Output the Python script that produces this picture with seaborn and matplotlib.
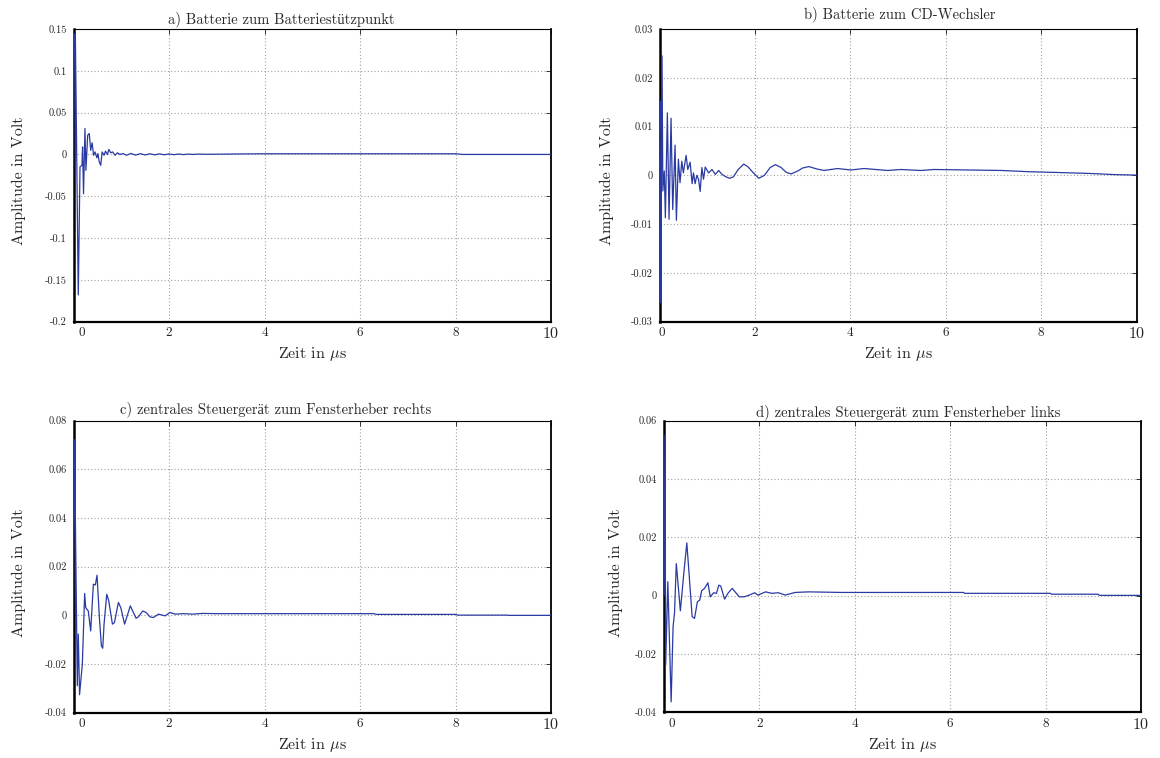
import numpy as np
import pandas as pd
import matplotlib
matplotlib.use("Agg")
import matplotlib.pyplot as plt
import matplotlib.transforms as mtransforms
import seaborn as sns

# ---------------- data ----------------
titles = ["a) Batterie zum Batteriestützpunkt",
          "b) Batterie zum CD-Wechsler",
          "c) zentrales Steuergerät zum Fensterheber rechts",
          "d) zentrales Steuergerät zum Fensterheber links"]

x_ticks = [0, 2, 4, 6, 8, 10]
x_ticklabels = ["0", "2", "4", "6", "8", "10"]

# panel a
t_a = [0.0, 0.02, 0.04, 0.10, 0.136, 0.178, 0.19, 0.21, 0.24, 0.26, 0.297, 0.33,
       0.36, 0.39, 0.42, 0.45, 0.49, 0.51, 0.54, 0.57, 0.60, 0.64, 0.67, 0.71,
       0.74, 0.78, 0.82, 0.87, 0.92, 0.97, 1.04, 1.11, 1.2, 1.3, 1.4, 1.5, 1.6,
       1.7, 1.8, 1.9, 2.0, 2.1, 2.2, 2.3, 2.4, 2.5, 2.6, 2.8, 3.0, 3.5, 4.0,
       5.0, 6.0, 7.0, 8.0, 8.15, 9.0, 10.0]
v_a = [-0.03, 0.144, 0.138, -0.168, -0.015, -0.013, 0.009, -0.047, 0.031, -0.019,
       0.023, 0.025, 0.005, 0.014, -0.001, 0.003, -0.004, 0.001, -0.009, -0.013,
       0.003, -0.001, 0.004, 0.0, 0.006, 0.002, 0.003, -0.001, 0.002, 0.0, 0.001,
       -0.001, 0.0012, -0.0008, 0.0009, -0.0006, 0.0008, -0.0005, 0.0007, -0.0004,
       0.0006, -0.0003, 0.0005, -0.0002, 0.0004, 0.0, 0.0004, 0.0002, 0.0003,
       0.0006, 0.0008, 0.0008, 0.0008, 0.0008, 0.0008, 0.0, 0.0, 0.0]
y_ticks_a = [-0.2, -0.15, -0.1, -0.05, 0, 0.05, 0.1, 0.15]
y_labels_a = ["-0.2", "-0.15", "-0.1", "-0.05", "0", "0.05", "0.1", "0.15"]

# panel b
t_b = [0.0, 0.01, 0.025, 0.053, 0.07, 0.1, 0.123, 0.165, 0.2, 0.242, 0.277, 0.326,
       0.354, 0.396, 0.43, 0.467, 0.5, 0.558, 0.593, 0.642, 0.684, 0.712, 0.747,
       0.782, 0.818, 0.853, 0.888, 0.923, 0.958, 1.03, 1.1, 1.17, 1.24, 1.31,
       1.39, 1.47, 1.55, 1.65, 1.765, 1.85, 1.95, 2.08, 2.2, 2.32, 2.43, 2.55,
       2.66, 2.76, 2.9, 3.0, 3.13, 3.3, 3.45, 3.73, 4.01, 4.29, 4.78, 5.06, 5.48,
       5.76, 6.47, 7.17, 7.73, 8.29, 8.99, 9.55, 10.0]
v_b = [0.0084, 0.0152, -0.0261, 0.0245, -0.0032, 0.0009, -0.0087, 0.0128, -0.009,
       0.0117, -0.007, 0.0062, -0.0092, 0.0033, -0.0015, 0.0029, 0.0005, 0.0041,
       0.0012, 0.0027, -0.0017, 0.0005, -0.0017, 0.0, -0.0008, -0.0033, 0.0016,
       -0.0008, 0.0017, 0.0005, 0.0012, 0.0002, 0.001, 0.0002, -0.0003, -0.0006,
       -0.0003, 0.0012, 0.0023, 0.0018, 0.0007, -0.0006, 0.0, 0.0016, 0.0022,
       0.0016, 0.0006, 0.0003, 0.0009, 0.0015, 0.0018, 0.0013, 0.001, 0.0014,
       0.0011, 0.0014, 0.001, 0.0012, 0.001, 0.0012, 0.0011, 0.001, 0.00075,
       0.0006, 0.0004, 0.00015, 0.00005]
y_ticks_b = [-0.03, -0.02, -0.01, 0, 0.01, 0.02, 0.03]
y_labels_b = ["-0.03", "-0.02", "-0.01", "0", "0.01", "0.02", "0.03"]

# panel c
t_c = [0.0, 0.02, 0.08, 0.1, 0.127, 0.185, 0.234, 0.255, 0.31, 0.36, 0.416, 0.458,
       0.493, 0.542, 0.584, 0.612, 0.64, 0.696, 0.738, 0.815, 0.857, 0.94, 0.99,
       1.07, 1.19, 1.31, 1.36, 1.45, 1.52, 1.6, 1.67, 1.78, 1.92, 2.02, 2.13,
       2.3, 2.5, 2.7, 3.0, 4.0, 5.0, 6.29, 6.35, 8.0, 8.05, 9.09, 9.12, 10.0]
v_c = [0.0, 0.0722, -0.0289, -0.0077, -0.0326, -0.02, 0.009, 0.0032, 0.0018,
       -0.0064, 0.0128, 0.0125, 0.0165, -0.0009, -0.0125, -0.0135, -0.0036,
       0.0087, 0.006, -0.0036, -0.003, 0.0053, 0.0032, -0.0036, 0.0039, -0.0012,
       -0.0006, 0.0018, 0.0012, -0.0006, -0.0009, 0.0005, -0.0002, 0.0012,
       0.0005, 0.0007, 0.0005, 0.0008, 0.0007, 0.0007, 0.0007, 0.0007, 0.0004,
       0.0004, 0.0001, 0.0001, 0.0, 0.0]
y_ticks_c = [-0.04, -0.02, 0, 0.02, 0.04, 0.06, 0.08]
y_labels_c = ["-0.04", "-0.02", "0", "0.02", "0.04", "0.06", "0.08"]

# panel d
t_d = [0.0, 0.02, 0.035, 0.08, 0.15, 0.19, 0.22, 0.258, 0.343, 0.415, 0.478, 0.52,
       0.59, 0.64, 0.7, 0.75, 0.79, 0.85, 0.88, 0.92, 0.97, 1.04, 1.1, 1.15,
       1.19, 1.27, 1.34, 1.43, 1.49, 1.58, 1.68, 1.79, 1.9, 1.97, 2.13, 2.26,
       2.4, 2.54, 2.75, 3.03, 3.74, 5.0, 6.28, 6.3, 8.1, 8.13, 9.1, 9.13, 10.0]
v_d = [0.0, 0.055, -0.0238, 0.0048, -0.0364, -0.0107, -0.0061, 0.011, -0.0052,
       0.0076, 0.0181, 0.0088, -0.0072, -0.0078, -0.0021, -0.0015, 0.0017, 0.0025,
       0.0033, 0.0044, -0.0004, 0.001, 0.0008, 0.0036, 0.0033, -0.0012, 0.0008,
       0.0025, 0.0013, -0.0004, -0.0004, 0.0002, 0.001, 0.0002, 0.0013, 0.0008,
       0.001, 0.0002, 0.0011, 0.0013, 0.0011, 0.0011, 0.0011, 0.0008, 0.0008,
       0.0005, 0.0005, 0.0001, 0.0001]
y_ticks_d = [-0.04, -0.02, 0, 0.02, 0.04, 0.06]
y_labels_d = ["-0.04", "-0.02", "0", "0.02", "0.04", "0.06"]

# ---------------- style ----------------
sns.set_theme(style="white")
plt.rcParams['font.family'] = ['cmr10', 'Liberation Serif']
plt.rcParams['mathtext.fontset'] = 'cm'
plt.rcParams['axes.unicode_minus'] = False
plt.rcParams['axes.formatter.use_mathtext'] = True

LINE = "#2a3aa3"
W, H = 1160, 758

fig = plt.figure(figsize=(W / 100, H / 100), dpi=100)

def px_box(l, t, r, b):
    return [l / W, 1 - b / H, (r - l) / W, (b - t) / H]

panels = [
    dict(t=t_a, v=v_a, yt=y_ticks_a, yl=y_labels_a, box=px_box(73.5, 29, 551, 321.7),
         title=titles[0], tx=0.436, tpad=4, ylx=-0.10, x0shift=8),
    dict(t=t_b, v=v_b, yt=y_ticks_b, yl=y_labels_b, box=px_box(659.5, 29, 1136.5, 321.7),
         title=titles[1], tx=0.504, tpad=8, ylx=-0.095, x0shift=2),
    dict(t=t_c, v=v_c, yt=y_ticks_c, yl=y_labels_c, box=px_box(73.5, 420.7, 551, 712.7),
         title=titles[2], tx=0.424, tpad=5, ylx=-0.10, x0shift=8),
    dict(t=t_d, v=v_d, yt=y_ticks_d, yl=y_labels_d, box=px_box(664, 420.7, 1141, 712.3),
         title=titles[3], tx=0.511, tpad=3, ylx=-0.085, x0shift=8),
]

for p in panels:
    ax = fig.add_axes(p["box"])
    df = pd.DataFrame({"t": p["t"], "v": p["v"]})
    sns.lineplot(data=df, x="t", y="v", ax=ax, color=LINE, linewidth=0.9,
                 sort=False, estimator=None, zorder=3)
    ax.set_xlim(0, 10)
    ax.set_ylim(p["yt"][0], p["yt"][-1])
    ax.set_xticks(x_ticks)
    ax.set_xticklabels(x_ticklabels, fontsize=9.5)
    ax.set_yticks(p["yt"])
    ax.set_yticklabels(p["yl"], fontsize=7.5)
    ax.grid(True, linestyle=(0, (1, 2)), color="#a0a0a0", linewidth=0.8)
    ax.tick_params(direction="in", length=3.5, width=0.7, top=True, right=True,
                   color="#333333")
    ax.tick_params(axis="y", pad=5)
    ax.tick_params(axis="x", pad=4)
    for side, lw in (("left", 1.8), ("bottom", 1.6), ("right", 1.3), ("top", 0.8)):
        ax.spines[side].set_visible(True)
        ax.spines[side].set_linewidth(lw)
        ax.spines[side].set_color("black")
        ax.spines[side].set_zorder(2)
    ax.set_title(p["title"], fontsize=10.5, x=p["tx"], pad=p["tpad"])
    ax.set_xlabel("Zeit in $\\mu$s", fontsize=11.5)
    ax.set_ylabel("Amplitude in Volt", fontsize=11.5)
    ax.xaxis.set_label_coords(0.5, -0.08)
    ax.yaxis.set_label_coords(p["ylx"], 0.48)
    labs = ax.get_xticklabels()
    labs[0].set_transform(labs[0].get_transform() +
                          mtransforms.ScaledTranslation(p["x0shift"] / 100, 0, fig.dpi_scale_trans))
    labs[-1].set_fontsize(11.5)

fig.savefig("out.png", dpi=100)
